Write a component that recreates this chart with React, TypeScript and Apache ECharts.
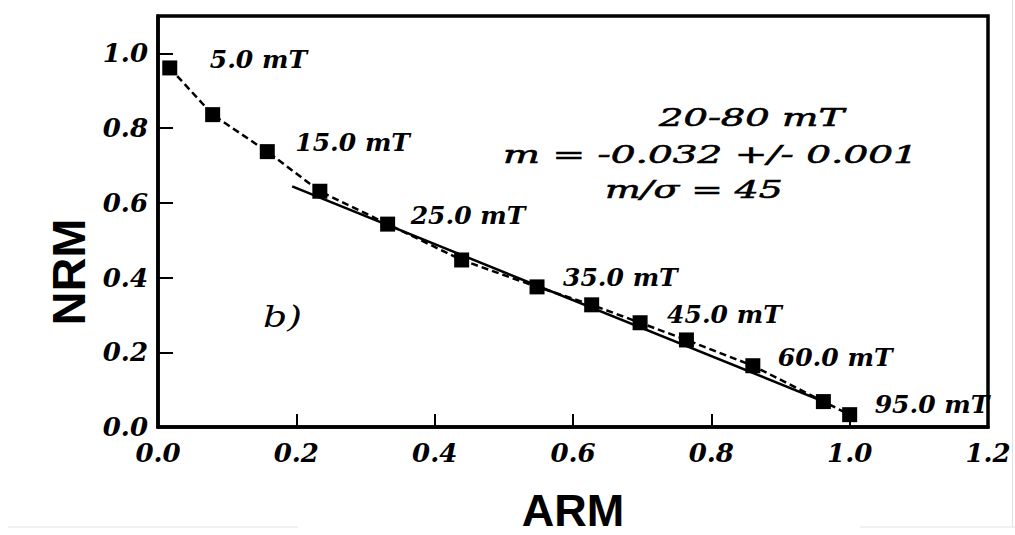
import React, { useEffect, useRef } from "react";
import * as echarts from "echarts";

// ---- data ----
const armValues = [0.017, 0.079, 0.158, 0.234, 0.332, 0.439, 0.548, 0.627, 0.697, 0.764, 0.86, 0.962, 1.0];
const nrmValues = [0.961, 0.836, 0.737, 0.631, 0.543, 0.447, 0.375, 0.327, 0.279, 0.233, 0.164, 0.068, 0.033];
const stepLabels = ["5.0 mT", "", "15.0 mT", "", "25.0 mT", "", "35.0 mT", "", "45.0 mT", "", "60.0 mT", "", "95.0 mT"];
const fitArm = [0.194, 0.965];
const fitNrm = [0.644, 0.066];
const annotationLines = ["20-80 mT", "m = -0.032 +/- 0.001", "m/σ = 45"];
const panelLabel = "b)";
const xAxisTitle = "ARM";
const yAxisTitle = "NRM";

// ---- layout / style ----
const labelOffsets: (number[] | null)[] = [
  [40, -8], null, [28, -9], null, [23, -9], null, [26, -9], null, [27, -8], null, [25, -8], null, [25, -10],
];
const annotationLayout = [
  { left: 659, cy: 117.5, width: 185 },
  { left: 503, cy: 154.5, width: 415 },
  { left: 605, cy: 189, width: 178 },
];
const SERIF = '"DejaVu Serif"';

function measure(text: string, font: string): number {
  const ctx = document.createElement("canvas").getContext("2d");
  if (!ctx) return text.length * 12;
  ctx.font = font;
  return ctx.measureText(text).width;
}

export default function App() {
  const ref = useRef<HTMLDivElement>(null);

  useEffect(() => {
    document.body.style.margin = "0";
    if (!ref.current) return;
    const chart = echarts.init(ref.current, undefined, { renderer: "svg" });

    const annFont = `italic 25px ${SERIF}`;
    const annGraphics = annotationLines.map((t, i) => {
      const lay = annotationLayout[i];
      const w = measure(t, annFont);
      return {
        type: "text",
        x: lay.left,
        y: lay.cy,
        scaleX: lay.width / w,
        z: 10,
        style: {
          text: t,
          fill: "#000",
          stroke: "#000",
          lineWidth: 0.6,
          fontFamily: "DejaVu Serif",
          fontStyle: "italic",
          fontSize: 25,
          align: "left",
          verticalAlign: "middle",
          textAlign: "left",
          textVerticalAlign: "middle",
        },
      };
    });
    const bFont = `italic 30px ${SERIF}`;
    const bW = measure(panelLabel, bFont);

    const mainData = armValues.map((x, i) => {
      const off = labelOffsets[i];
      const item: any = { value: [x, nrmValues[i]] };
      if (stepLabels[i] && off) {
        item.label = {
          show: true,
          formatter: stepLabels[i],
          position: "inside",
          align: "left",
          verticalAlign: "middle",
          offset: off,
          color: "#000",
          fontFamily: "DejaVu Serif",
          fontStyle: "italic",
          fontWeight: "bold",
          fontSize: 25,
        };
      }
      return item;
    });

    const tickLabelStyle = {
      formatter: (v: number) => v.toFixed(1),
      color: "#000",
      fontFamily: "DejaVu Serif",
      fontStyle: "italic",
      fontWeight: "bold",
      fontSize: 26,
    };

    chart.setOption({
      animation: false,
      backgroundColor: "#fff",
      grid: {
        left: 158,
        right: 27,
        top: 16,
        bottom: 108,
        show: true,
        borderColor: "#000",
        borderWidth: 3.5,
        containLabel: false,
        outerBoundsMode: "none",
      },
      xAxis: {
        type: "value",
        min: 0,
        max: 1.2,
        interval: 0.2,
        axisLine: { show: true, lineStyle: { color: "#000", width: 3.5 } },
        axisTick: { show: true, inside: true, length: 13, lineStyle: { color: "#000", width: 2 } },
        axisLabel: { ...tickLabelStyle, margin: 13 },
        splitLine: { show: false },
        name: xAxisTitle,
        nameLocation: "middle",
        nameGap: 61,
        nameTextStyle: { fontFamily: "Liberation Sans", fontWeight: "bold", fontSize: 45, color: "#000" },
      },
      yAxis: {
        type: "value",
        min: 0,
        max: 1.1,
        interval: 0.2,
        axisLine: { show: true, lineStyle: { color: "#000", width: 3.5 } },
        axisTick: { show: true, inside: true, length: 15, lineStyle: { color: "#000", width: 2 } },
        axisLabel: { ...tickLabelStyle, showMaxLabel: false, margin: 10 },
        splitLine: { show: false },
        name: yAxisTitle,
        nameLocation: "middle",
        nameGap: 65,
        nameTextStyle: {
          fontFamily: "Liberation Sans",
          fontWeight: "bold",
          fontSize: 47,
          color: "#000",
          padding: [0, 101, 0, 0],
        },
      },
      series: [
        {
          type: "line",
          data: fitArm.map((x, i) => [x, fitNrm[i]]),
          symbol: "none",
          lineStyle: { color: "#000", width: 2.5 },
          z: 2,
          silent: true,
        },
        {
          type: "line",
          data: mainData,
          symbol: "rect",
          symbolSize: 15,
          itemStyle: { color: "#000" },
          lineStyle: { color: "#000", width: 2.5, type: [7, 4] },
          label: { show: false },
          z: 3,
          silent: true,
        },
      ],
      graphic: [
        ...annGraphics,
        {
          type: "text",
          x: 263,
          y: 316,
          scaleX: 39 / bW,
          z: 10,
          style: {
            text: panelLabel,
            fill: "#000",
            fontFamily: "DejaVu Serif",
            fontStyle: "italic",
            fontSize: 30,
            align: "left",
            verticalAlign: "middle",
            textAlign: "left",
            textVerticalAlign: "middle",
          },
        },
        { type: "line", shape: { x1: 8, y1: 527, x2: 298, y2: 527 }, style: { stroke: "#e2e2e2", lineWidth: 1 } },
        { type: "line", shape: { x1: 860, y1: 527, x2: 1015, y2: 527 }, style: { stroke: "#e2e2e2", lineWidth: 1 } },
        { type: "line", shape: { x1: 1012.5, y1: 0, x2: 1012.5, y2: 527 }, style: { stroke: "#e2e2e2", lineWidth: 1 } },
      ],
    });

    return () => chart.dispose();
  }, []);

  return <div ref={ref} style={{ width: 1015, height: 535 }} />;
}
